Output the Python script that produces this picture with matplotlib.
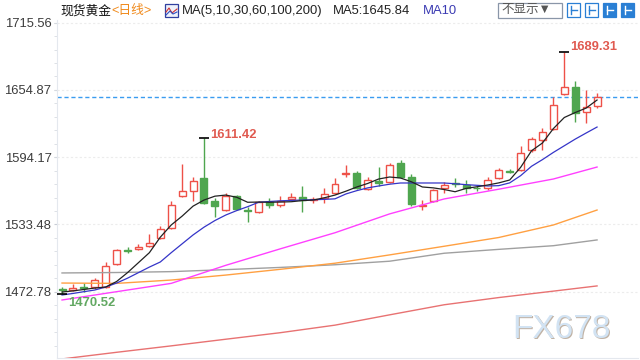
import matplotlib
matplotlib.use("Agg")
import matplotlib.pyplot as plt
from matplotlib.patches import Rectangle
from matplotlib.lines import Line2D
from matplotlib.ticker import FixedLocator

plt.rcParams['font.family'] = ['Liberation Sans', 'Noto Sans CJK SC', 'DejaVu Sans']

# daily candles
opens = [1475.2, 1474.3, 1476.8, 1477.0, 1477.0, 1497.7, 1510.0, 1511.0, 1514.1, 1521.3,
         1530.3, 1559.2, 1563.7, 1575.4, 1554.6, 1546.5, 1559.2, 1546.6, 1544.7, 1553.7,
         1551.0, 1556.4, 1558.3, 1555.8, 1557.3, 1561.9, 1578.6, 1579.9, 1565.4, 1572.6,
         1571.8, 1589.0, 1576.3, 1550.1, 1554.6, 1566.3, 1570.8, 1569.0, 1566.8, 1566.3,
         1575.4, 1582.0, 1582.6, 1600.7, 1609.7, 1619.6, 1651.2, 1657.5, 1635.0, 1640.4]
highs = [1477.0, 1479.7, 1480.6, 1485.5, 1499.5, 1511.5, 1513.0, 1516.0, 1524.9, 1532.1,
         1554.6, 1588.1, 1576.3, 1611.42, 1557.3, 1561.9, 1560.2, 1549.2, 1555.0, 1557.3,
         1559.2, 1561.9, 1568.2, 1558.0, 1566.3, 1575.4, 1587.2, 1581.7, 1576.3, 1585.3,
         1589.0, 1591.7, 1579.0, 1555.5, 1565.4, 1571.8, 1575.4, 1573.6, 1568.5, 1576.3,
         1584.4, 1583.5, 1604.3, 1612.4, 1620.5, 1648.5, 1689.31, 1662.9, 1654.8, 1652.1]
lows = [1470.52, 1473.4, 1472.5, 1475.5, 1476.5, 1496.5, 1507.5, 1510.0, 1513.5, 1520.5,
        1529.5, 1558.5, 1554.6, 1551.5, 1540.2, 1545.6, 1546.5, 1535.6, 1543.8, 1548.3,
        1549.2, 1555.5, 1544.7, 1552.8, 1552.8, 1561.0, 1576.3, 1565.4, 1564.5, 1568.2,
        1570.9, 1575.4, 1550.1, 1546.5, 1553.7, 1561.9, 1567.2, 1561.9, 1564.0, 1564.5,
        1574.5, 1579.6, 1581.7, 1598.9, 1600.7, 1618.7, 1650.3, 1625.9, 1625.0, 1638.6]
closes = [1474.3, 1476.1, 1476.0, 1483.3, 1495.9, 1510.3, 1509.2, 1513.5, 1516.8, 1529.4,
          1551.0, 1563.7, 1572.7, 1552.8, 1550.1, 1559.2, 1547.4, 1545.8, 1553.7, 1551.0,
          1554.6, 1558.3, 1555.5, 1556.8, 1560.9, 1570.0, 1579.6, 1566.3, 1573.6, 1571.0,
          1587.2, 1576.3, 1551.9, 1551.0, 1564.5, 1569.0, 1570.0, 1566.3, 1566.0, 1573.6,
          1582.6, 1581.2, 1598.0, 1610.6, 1616.9, 1641.3, 1657.5, 1634.1, 1639.5, 1648.5]

# moving averages as drawn on the chart
ma5 = [1472.5, 1473.5, 1474.8, 1476.1, 1477.0, 1482.0, 1490.0, 1499.0, 1508.0, 1522.0,
       1533.0, 1541.0, 1550.0, 1555.5, 1559.0, 1560.0, 1558.0, 1553.5, 1553.7, 1553.5,
       1553.7, 1554.0, 1555.0, 1555.5, 1557.5, 1560.0, 1563.5, 1567.3, 1570.5, 1574.5,
       1576.3, 1575.4, 1572.0, 1567.3, 1566.5, 1565.0, 1563.0, 1566.0, 1567.5, 1569.1,
       1571.0, 1573.6, 1585.0, 1600.0, 1607.0, 1620.0, 1630.0, 1634.5, 1638.5, 1645.8]
ma10 = [1469.8, 1471.2, 1472.8, 1474.3, 1477.0, 1480.6, 1485.0, 1490.0, 1495.0, 1499.6,
        1508.0, 1516.0, 1524.0, 1531.0, 1537.0, 1542.0, 1546.0, 1549.5, 1553.5, 1554.2,
        1554.8, 1555.2, 1555.5, 1555.8, 1556.1, 1556.6, 1561.0, 1564.0, 1566.5, 1568.2,
        1569.8, 1570.9, 1570.9, 1570.9, 1570.9, 1570.9, 1570.2, 1569.4, 1568.8, 1568.2,
        1568.5, 1571.0, 1577.5, 1586.0, 1592.0, 1598.5, 1604.5, 1610.5, 1616.0, 1621.4]
ma_days = [0, 5, 10, 15, 20, 25, 30, 35, 40, 45, 49]
ma30 = [1465.3, 1472.8, 1480.3, 1496.6, 1511.5, 1526.0, 1543.0, 1556.5, 1565.3, 1574.5, 1585.3]
ma60 = [1480.6, 1480.3, 1483.3, 1487.8, 1493.0, 1498.5, 1506.0, 1513.8, 1521.7, 1533.0, 1546.5]
ma100 = [1489.7, 1490.1, 1490.9, 1492.7, 1494.7, 1497.1, 1500.3, 1507.5, 1511.0, 1514.3, 1519.5]
ma200 = [1412.1, 1418.1, 1423.9, 1429.9, 1435.8, 1442.6, 1451.9, 1461.0, 1467.5, 1473.3, 1478.0]

y_ticks = [1472.78, 1533.48, 1594.17, 1654.87, 1715.56]

up_color = '#ee5148'
down_color = '#4fa64f'


def fx(x):
    return x / 640


def fy(y):
    return 1 - y / 360


fig = plt.figure(figsize=(6.4, 3.6), dpi=100)
ax = fig.add_axes([57 / 640, 2 / 360, 581 / 640, 338 / 360])

days = list(range(len(closes)))

# candles
for i in days:
    o, h, l, c = opens[i], highs[i], lows[i], closes[i]
    col = up_color if c >= o else down_color
    ax.vlines(i, max(o, c), h, color=col, lw=1, zorder=2)
    ax.vlines(i, l, min(o, c), color=col, lw=1, zorder=2)

up_days = [i for i in days if closes[i] >= opens[i]]
dn_days = [i for i in days if closes[i] < opens[i]]
ax.bar(up_days, [max(closes[i] - opens[i], 0.6) for i in up_days],
       bottom=[opens[i] for i in up_days], width=0.64,
       facecolor='white', edgecolor=up_color, lw=1, zorder=2)
ax.bar(dn_days, [max(opens[i] - closes[i], 0.6) for i in dn_days],
       bottom=[closes[i] for i in dn_days], width=0.64,
       facecolor=down_color, edgecolor=down_color, lw=1, zorder=2)

# moving averages
ax.plot(ma_days, ma200, color='#e87272', lw=1, zorder=3)
ax.plot(ma_days, ma100, color='#a0a0a0', lw=1, zorder=3)
ax.plot(ma_days, ma60, color='#ffa042', lw=1, zorder=3)
ax.plot(ma_days, ma30, color='#ff40ff', lw=1, zorder=3)
ax.plot(days, ma10, color='#3535c8', lw=0.9, zorder=3)
ax.plot(days, ma5, color='#222222', lw=0.9, zorder=3)

# last price line
ax.axhline(closes[-1], color='#3a9cf0', lw=1, ls=(0, (3, 2)), zorder=1)

# extreme labels
hi_day = highs.index(max(highs))
hi_day2 = highs.index(max(highs[:30]))
lo_day = lows.index(min(lows))
for d, v in [(hi_day, highs[hi_day]), (hi_day2, highs[hi_day2]), (lo_day, lows[lo_day])]:
    ax.plot([d], [v], marker='_', color='black', ms=7, mew=1.2, zorder=4)
ax.annotate(f'{highs[hi_day]:.2f}', xy=(hi_day, highs[hi_day]), xytext=(4, 1.5),
            textcoords='offset points', fontsize=9.4, fontweight='bold',
            color='#e05a50', ha='left', va='baseline')
ax.annotate(f'{highs[hi_day2]:.2f}', xy=(hi_day2, highs[hi_day2]), xytext=(4.3, 0.3),
            textcoords='offset points', fontsize=9.4, fontweight='bold',
            color='#e05a50', ha='left', va='baseline')
ax.annotate(f'{lows[lo_day]:.2f}', xy=(lo_day, lows[lo_day]), xytext=(4.3, -2),
            textcoords='offset points', fontsize=9.4, fontweight='bold',
            color='#62a862', ha='left', va='top')

# axes styling
ax.set_xlim(-0.46, 52.75)
ax.set_ylim(1412.95, 1718.0)
ax.yaxis.set_major_locator(FixedLocator(y_ticks))
step = (y_ticks[1] - y_ticks[0]) / 5
ax.yaxis.set_minor_locator(FixedLocator([y_ticks[0] + k * step for k in range(-11, 22)]))
ax.set_yticklabels([f'{t:.2f}' for t in y_ticks])
ax.tick_params(axis='y', which='major', length=2.5, color='#c8ccd4', pad=1.5,
               labelsize=9.4, labelcolor='#3c3c3c')
ax.tick_params(axis='y', which='minor', length=2, color='#d8dce2')
ax.set_xticks([])
for t in y_ticks:
    ax.axhline(t, color='#ececec', lw=0.8, ls=(0, (2, 2)), zorder=0)
for s in ['top', 'right']:
    ax.spines[s].set_visible(False)
ax.spines['left'].set_color('#e4e8ee')
ax.spines['bottom'].set_color('#e4e8ee')

# header
fig.text(fx(60), fy(11), '现货黄金', fontsize=9.2, color='#111111', va='center')
fig.text(fx(111), fy(11), '<日线>', fontsize=9.2, color='#f08a1c', va='center')
fig.add_artist(Rectangle((fx(165), fy(17)), 13 / 640, 13 / 360, transform=fig.transFigure,
                         facecolor='#eef2fb', edgecolor='#3040a0', lw=0.9))
fig.add_artist(Line2D([fx(166), fx(169), fx(172), fx(177)], [fy(12), fy(8), fy(13), fy(9)],
                      transform=fig.transFigure, color='#d03030', lw=0.8))
fig.add_artist(Line2D([fx(166), fx(170), fx(173), fx(177)], [fy(15), fy(11), fy(14), fy(12)],
                      transform=fig.transFigure, color='#3050c0', lw=0.8))
fig.text(fx(182), fy(11), 'MA(5,10,30,60,100,200)', fontsize=9.4, color='#222222', va='center')
fig.text(fx(333), fy(11), f'MA5:{ma5[-1] + 0.04:.2f}', fontsize=9.4, color='#222222', va='center')
fig.text(fx(423), fy(11), 'MA10', fontsize=9.4, color='#3b3bb3', va='center')

fig.add_artist(Rectangle((fx(498), fy(18)), 64 / 640, 15 / 360, transform=fig.transFigure,
                         facecolor='white', edgecolor='#8a96a8', lw=0.9))
fig.text(fx(501), fy(10.5), '不显示▼', fontsize=9, color='#555555', va='center')
for k, x0 in enumerate([567, 585, 603, 621]):
    filled = k >= 2
    fig.add_artist(Rectangle((fx(x0), fy(17)), 13 / 640, 14 / 360, transform=fig.transFigure,
                             facecolor='#2a7fd4' if filled else 'white',
                             edgecolor='#2a7fd4', lw=0.9))
    inner = 'white' if filled else '#2a7fd4'
    fig.add_artist(Line2D([fx(x0 + 4), fx(x0 + 4)], [fy(6), fy(14)],
                          transform=fig.transFigure, color=inner, lw=1))
    fig.add_artist(Line2D([fx(x0 + 4), fx(x0 + 10)], [fy(10), fy(10)],
                          transform=fig.transFigure, color=inner, lw=1))

# watermark
fig.text(fx(513), fy(339), 'FX678', fontsize=24, color='#c0b2a4', va='baseline')
fig.text(fx(512), fy(338), 'FX678', fontsize=24, color='#d2e3f3', va='baseline')

fig.savefig('out.png', dpi=100)
